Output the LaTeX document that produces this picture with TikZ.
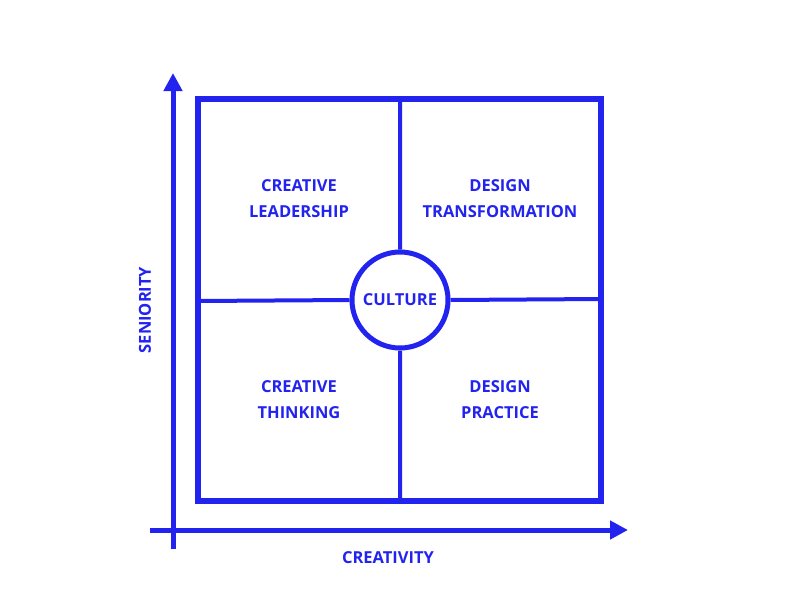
\documentclass[tikz,border=0pt]{standalone}
\usepackage{fontspec}
\setmainfont{Open Sans}
\usetikzlibrary{arrows.meta}
\definecolor{bl}{HTML}{2323F0}
\begin{document}
\begin{tikzpicture}[x=1pt,y=-1pt,
  lbl/.style={text=bl,font=\bfseries\fontsize{16.5}{26}\selectfont,align=center},
  axis/.style={draw=bl,line width=5pt,-{Triangle[length=18pt,width=18pt]}}]
\useasboundingbox (0,0) rectangle (800,600);
\coordinate (sq1) at (198,99);
\coordinate (sq2) at (601,501);
\draw[bl,line width=5.5pt] (sq1) rectangle (sq2);
\node[circle,draw=bl,line width=5pt,minimum size=96pt,inner sep=0pt,lbl] (c) at (400,300) {CULTURE};
\coordinate (t) at (400,99); \coordinate (b) at (400,501);
\coordinate (l) at (198,301); \coordinate (r) at (601,299);
\draw[bl,line width=4pt] (t) -- (c.north) (c.south) -- (b) (l) -- (c.west) (c.east) -- (r);
\coordinate (ya) at (173,549); \coordinate (yb) at (173,73);
\coordinate (xa) at (150,530); \coordinate (xb) at (628,530);
\draw[axis] (ya) -- (yb);
\draw[axis] (xa) -- (xb);
\node[lbl] (q1) at (299,199) {CREATIVE\\LEADERSHIP};
\node[lbl] (q2) at (500,199) {DESIGN\\TRANSFORMATION};
\node[lbl] (q3) at (299,400) {CREATIVE\\THINKING};
\node[lbl] (q4) at (500,400) {DESIGN\\PRACTICE};
\node[lbl,rotate=90] (sy) at (145,310) {SENIORITY};
\node[lbl] (sx) at (388,558) {CREATIVITY};
\end{tikzpicture}
\end{document}
